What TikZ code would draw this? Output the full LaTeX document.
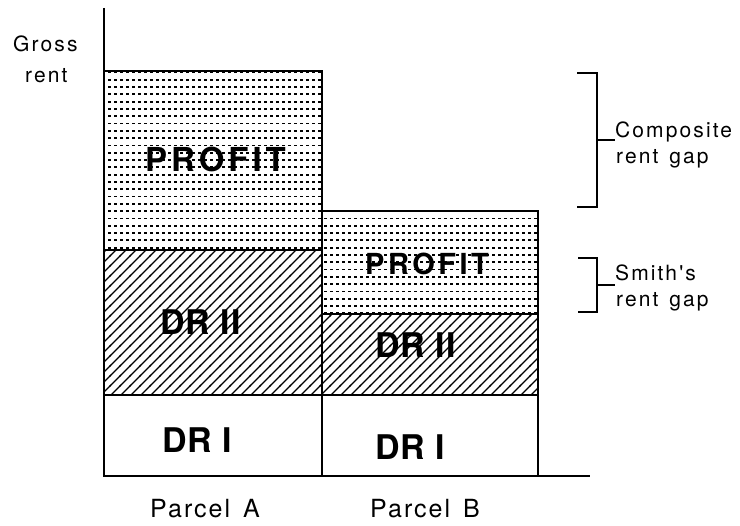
\documentclass[tikz,border=0pt]{standalone}
\usepackage{fontspec}
\setmainfont{TeX Gyre Heros}
\newfontfamily\labfont[LetterSpace=8]{TeX Gyre Heros}
\newfontfamily\sidefont[LetterSpace=10]{TeX Gyre Heros}
\newfontfamily\drfont[LetterSpace=3]{TeX Gyre Heros}
\newfontfamily\proffont[LetterSpace=12]{TeX Gyre Heros}
\usetikzlibrary{patterns}
\pgfdeclarepatternformonly{profitdots}{\pgfpoint{-1pt}{-1pt}}{\pgfpoint{7pt}{8.5pt}}{\pgfpoint{6pt}{7.3pt}}{%
  \pgfpathrectangle{\pgfpoint{0pt}{0pt}}{\pgfpoint{2.6pt}{1.8pt}}\pgfusepath{fill}}
\pgfdeclarepatternformonly{drlines}{\pgfpoint{-1pt}{-1pt}}{\pgfpoint{11pt}{11pt}}{\pgfpoint{10pt}{10pt}}{%
  \pgfsetlinewidth{1.3pt}\pgfpathmoveto{\pgfpoint{-1pt}{-1pt}}\pgfpathlineto{\pgfpoint{11pt}{11pt}}\pgfusepath{stroke}}
\tikzset{
  outline/.style={line width=2pt},
  profit/.style={pattern=profitdots},
  dr2/.style={pattern=drlines},
  drlabel/.style={font=\drfont\bfseries\fontsize{34}{34}\selectfont, inner sep=0pt, anchor=base west},
  proflabel/.style={font=\proffont\bfseries, inner sep=0pt, anchor=base west},
  axlabel/.style={font=\labfont\fontsize{25}{25}\selectfont, inner sep=0pt, anchor=base west},
  sidelabel/.style={font=\sidefont\fontsize{21}{21}\selectfont, inner sep=0pt, anchor=base west},
  bracket/.style={line width=1.8pt}
}
\begin{document}
\begin{tikzpicture}[x=1pt,y=-1pt]
\useasboundingbox (0,0) rectangle (740,526);
% fills
\fill[profit] (104,71) rectangle (322,250);
\fill[dr2] (104,250) rectangle (322,395);
\fill[profit] (322,211) rectangle (538,314);
\fill[dr2] (322,314) rectangle (538,395);
% outlines
\draw[outline] (104,71) rectangle (322,476);
\draw[outline] (104,250) -- (322,250);
\draw[outline] (104,395) -- (538,395);
\draw[outline] (322,211) rectangle (538,476);
\draw[outline] (322,314) -- (538,314);
% axes
\coordinate (ytop) at (104,8);
\coordinate (origin) at (104,476);
\coordinate (xend) at (590,476);
\draw[outline] (ytop) -- (origin) -- (xend);
% box labels
\node[proflabel, font=\proffont\bfseries\fontsize{33}{33}\selectfont] (pa) at (145,172) {PROFIT};
\node[drlabel] (d2a) at (160,335) {DR II};
\node[drlabel] (d1a) at (162,453) {DR I};
\node[proflabel, font=\proffont\bfseries\fontsize{29}{29}\selectfont] (pb) at (365,275) {PROFIT};
\node[drlabel] (d2b) at (375,358) {DR II};
\node[drlabel] (d1b) at (375,460) {DR I};
% axis labels
\node[sidelabel] (gross) at (13,52) {Gross};
\node[sidelabel] (rent) at (25,83) {rent};
\node[axlabel] (parA) at (150,518) {Parcel\kern4pt\ A};
\node[axlabel] (parB) at (370,518) {Parcel\kern4pt\ B};
% brackets
\coordinate (c1) at (577,73); \coordinate (c2) at (597,73);
\coordinate (c3) at (597,207); \coordinate (c4) at (577,207);
\coordinate (cm) at (597,140); \coordinate (cme) at (615,140);
\draw[bracket] (c1) -- (c2) -- (c3) -- (c4);
\draw[bracket] (cm) -- (cme);
\coordinate (s1) at (578,258); \coordinate (s2) at (597,258);
\coordinate (s3) at (597,312); \coordinate (s4) at (578,312);
\coordinate (sm) at (597,285); \coordinate (sme) at (615,285);
\draw[bracket] (s1) -- (s2) -- (s3) -- (s4);
\draw[bracket] (sm) -- (sme);
\node[sidelabel] (comp) at (615,138) {Composite};
\node[sidelabel] (comp2) at (616,164) {rent\kern3pt\ gap};
\node[sidelabel] (smith) at (615,281) {Smith's};
\node[sidelabel] (smith2) at (616,307) {rent\kern3pt\ gap};
\end{tikzpicture}
\end{document}
